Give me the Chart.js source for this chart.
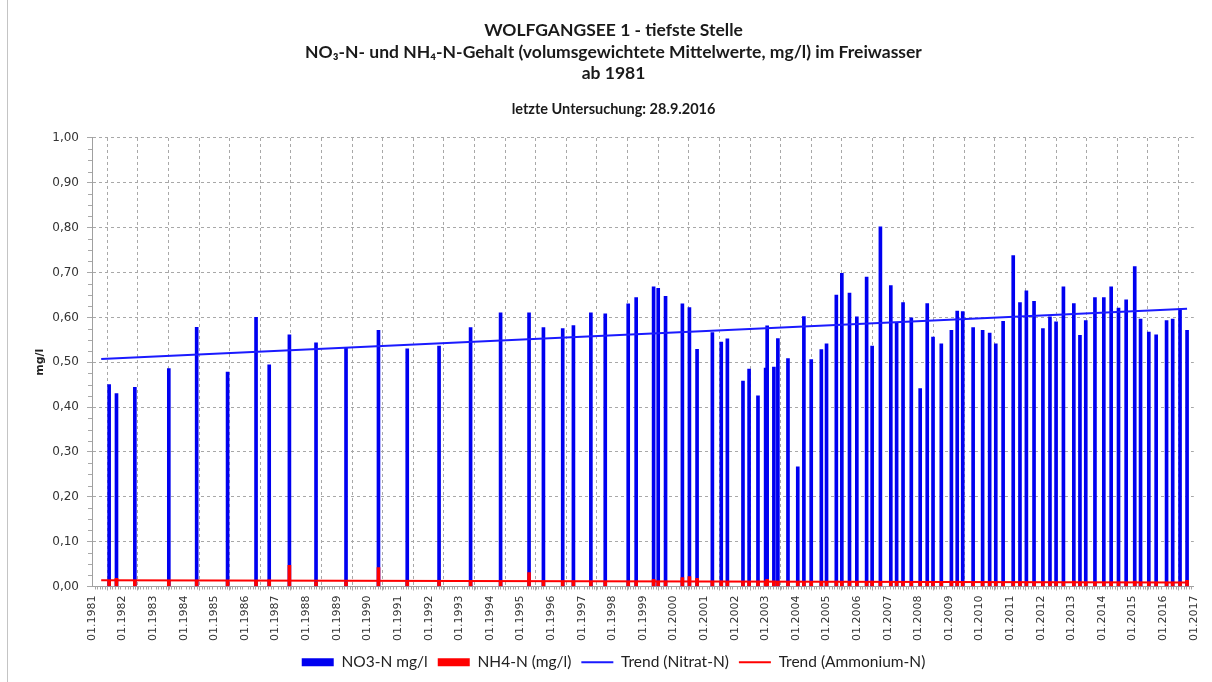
<!DOCTYPE html>
<html><head><meta charset="utf-8">
<script src="https://cdn.jsdelivr.net/npm/chart.js@4.4.1/dist/chart.umd.min.js"></script>
<style>html,body{margin:0;padding:0;background:#fff}#wrap{width:1212px;height:682px;position:relative}</style>
</head><body><div id="wrap"><canvas id="c" width="1212" height="682"></canvas></div>
<script>
// Sampling dates (decimal years)
const sampleDates = [
  1981.56,1981.80,1982.40,1983.51,1984.42,1985.43,1986.36,1986.79,1987.45,1988.32,1989.30,1990.36,
  1991.30,1992.34,1993.37,1994.35,1995.28,1995.75,1996.38,1996.73,1997.30,1997.77,1998.52,1998.78,1999.35,1999.50,1999.74,
  2000.29,2000.52,2000.77,2001.27,2001.56,2001.76,2002.27,2002.47,2002.76,2003.01,2003.06,2003.28,2003.41,2003.74,
  2004.06,2004.26,2004.50,2004.83,2005.00,2005.32,2005.50,2005.75,2005.99,2006.31,2006.49,2006.76,
  2007.10,2007.29,2007.50,2007.77,2008.06,2008.29,2008.48,2008.75,
  2009.08,2009.27,2009.45,2009.79,2010.10,2010.33,2010.53,2010.77,2011.10,2011.32,2011.53,2011.78,
  2012.07,2012.30,2012.50,2012.74,2013.08,2013.28,2013.47,2013.77,2014.06,2014.30,2014.54,2014.79,
  2015.07,2015.26,2015.53,2015.77,2016.11,2016.31,2016.55,2016.78
];
// NO3-N mg/l
const no3Values = [
  0.450,0.430,0.444,0.486,0.578,0.478,0.600,0.494,0.561,0.543,0.532,0.571,
  0.530,0.536,0.577,0.610,0.610,0.577,0.575,0.582,0.610,0.608,0.630,0.644,0.668,0.665,0.647,
  0.630,0.622,0.529,0.566,0.545,0.552,0.458,0.485,0.425,0.487,0.581,0.489,0.553,0.508,
  0.267,0.602,0.506,0.528,0.541,0.650,0.698,0.654,0.601,0.690,0.536,0.802,
  0.671,0.589,0.633,0.599,0.441,0.631,0.556,0.541,
  0.571,0.614,0.613,0.577,0.571,0.565,0.541,0.591,0.738,0.633,0.659,0.636,
  0.575,0.601,0.590,0.668,0.631,0.560,0.593,0.644,0.644,0.668,0.621,0.639,
  0.713,0.596,0.567,0.561,0.593,0.596,0.619,0.571
];
// NH4-N mg/l
const nh4Values = [
  0.012,0.018,0.014,0.012,0.014,0.012,0.012,0.015,0.047,0.010,0.010,0.042,
  0.010,0.010,0.010,0.010,0.031,0.012,0.012,0.012,0.010,0.010,0.010,0.012,0.016,0.012,0.012,
  0.020,0.022,0.018,0.012,0.012,0.010,0.010,0.010,0.012,0.012,0.016,0.012,0.010,0.010,
  0.010,0.010,0.010,0.010,0.010,0.012,0.010,0.010,0.010,0.010,0.012,0.010,
  0.010,0.010,0.010,0.010,0.010,0.010,0.010,0.010,
  0.012,0.012,0.010,0.010,0.010,0.010,0.010,0.010,0.010,0.010,0.010,0.010,
  0.010,0.010,0.010,0.010,0.012,0.010,0.010,0.010,0.010,0.010,0.010,0.010,
  0.012,0.010,0.010,0.010,0.010,0.010,0.010,0.014
];
// Trend lines (start / end)
const trendYears = [1981.3, 2016.78];
const nitratTrend = [0.507, 0.619];
const ammoniumTrend = [0.014, 0.009];

const seriesLabels = ['NO3-N mg/l', 'NH4-N (mg/l)', 'Trend (Nitrat-N)', 'Trend (Ammonium-N)'];
const titleLines = ['WOLFGANGSEE 1 - tiefste Stelle',
  'NO\u2083-N- und NH\u2084-N-Gehalt (volumsgewichtete Mittelwerte, mg/l) im Freiwasser',
  'ab 1981'];
const subtitleText = 'letzte Untersuchung: 28.9.2016';
const yAxisTitle = 'mg/l';

const pts = (xs, ys) => xs.map((x, i) => ({x, y: ys[i]}));

const bgPlugin = {
  id: 'bg',
  beforeDraw(chart) {
    const ctx = chart.ctx;
    ctx.save();
    ctx.fillStyle = '#fff';
    ctx.fillRect(0, 0, chart.width, chart.height);
    ctx.strokeStyle = '#c4c4c4';
    ctx.lineWidth = 1;
    ctx.beginPath(); ctx.moveTo(7.5, 0); ctx.lineTo(7.5, chart.height); ctx.stroke();
    ctx.restore();
  }
};
const minorTicks = {
  id: 'minorTicks',
  beforeDatasetsDraw(chart) {
    const {ctx, scales: {x, y}} = chart;
    ctx.save();
    ctx.strokeStyle = '#a8a8a8';
    ctx.lineWidth = 1;
    ctx.beginPath();
    for (let k = 0; k <= 40; k++) {
      if (k % 4 === 0) continue;
      const py = Math.round(y.getPixelForValue(k * 0.025)) + 0.5;
      ctx.moveTo(x.left - 4, py); ctx.lineTo(x.left, py);
    }
    for (let m = 0; m <= 36 * 12; m++) {
      if (m % 12 === 0) continue;
      const px = Math.round(x.getPixelForValue(1981 + m / 12)) + 0.5;
      ctx.moveTo(px, y.bottom); ctx.lineTo(px, y.bottom + 3);
    }
    ctx.stroke();
    ctx.restore();
  }
};

new Chart(document.getElementById('c'), {
  data: {
    datasets: [
      {type: 'bar', label: seriesLabels[0], data: pts(sampleDates, no3Values),
       backgroundColor: '#0000f0', barThickness: 3, grouped: false, order: 3},
      {type: 'bar', label: seriesLabels[1], data: pts(sampleDates, nh4Values),
       backgroundColor: '#ff0000', barThickness: 3, grouped: false, order: 2},
      {type: 'line', label: seriesLabels[2], data: pts(trendYears, nitratTrend),
       borderColor: '#1a1aff', backgroundColor: '#1a1aff', borderWidth: 2, pointRadius: 0, order: 1},
      {type: 'line', label: seriesLabels[3], data: pts(trendYears, ammoniumTrend),
       borderColor: '#ff0000', backgroundColor: '#ff0000', borderWidth: 2, pointRadius: 0, order: 0}
    ]
  },
  options: {
    responsive: false,
    animation: false,
    devicePixelRatio: 1,
    layout: {padding: {left: 30, right: 15, top: 8, bottom: 2}},
    scales: {
      x: {
        type: 'linear', min: 1981, max: 2017, offset: false,
        ticks: {stepSize: 1, autoSkip: false, maxRotation: 90, minRotation: 90, padding: 5,
          color: '#333', font: {family: 'DejaVu Sans', size: 11},
          callback: v => '01.' + v},
        grid: {color: '#a8a8a8', tickLength: 4, drawTicks: true},
        border: {color: '#a0a0a0', dash: [3, 3]},
        afterFit: s => { s.height = 58; }
      },
      y: {
        min: 0, max: 1,
        ticks: {stepSize: 0.1, padding: 8, color: '#333', font: {family: 'DejaVu Sans', size: 12},
          callback: v => v.toFixed(2).replace('.', ',')},
        grid: {color: '#a8a8a8', tickLength: 5},
        border: {color: '#a0a0a0', dash: [3, 3]},
        title: {display: true, text: yAxisTitle, color: '#222', font: {family: 'DejaVu Sans', size: 11, weight: 'bold'}, padding: 4},
        afterFit: s => { s.width = 62; }
      }
    },
    plugins: {
      title: {display: true, text: titleLines, color: '#1a1a1a',
        font: {family: 'Lato', size: 17.5, weight: 'bold', lineHeight: 1.23}, padding: {top: 12, bottom: 10}},
      subtitle: {display: true, text: subtitleText, color: '#1a1a1a',
        font: {family: 'Lato', size: 14.5, weight: 'bold', lineHeight: 1.2}, padding: {top: 6, bottom: 20}},
      legend: {position: 'bottom', align: 'center',
        labels: {usePointStyle: true, pointStyleWidth: 32, boxHeight: 8, padding: 10, color: '#222',
          font: {family: 'Lato', size: 15.5},
          sort: (a, b) => a.datasetIndex - b.datasetIndex,
          generateLabels(chart) {
            const items = Chart.defaults.plugins.legend.labels.generateLabels(chart);
            items.forEach(it => {
              const ds = chart.data.datasets[it.datasetIndex];
              if (ds.type === 'bar') { it.pointStyle = 'rect'; it.lineWidth = 0; it.fillStyle = ds.backgroundColor; }
              else { it.pointStyle = 'line'; it.lineWidth = 2; it.strokeStyle = ds.borderColor; }
            });
            return items;
          }}},
      tooltip: {enabled: false}
    }
  },
  plugins: [bgPlugin, minorTicks]
});
</script></body></html>
